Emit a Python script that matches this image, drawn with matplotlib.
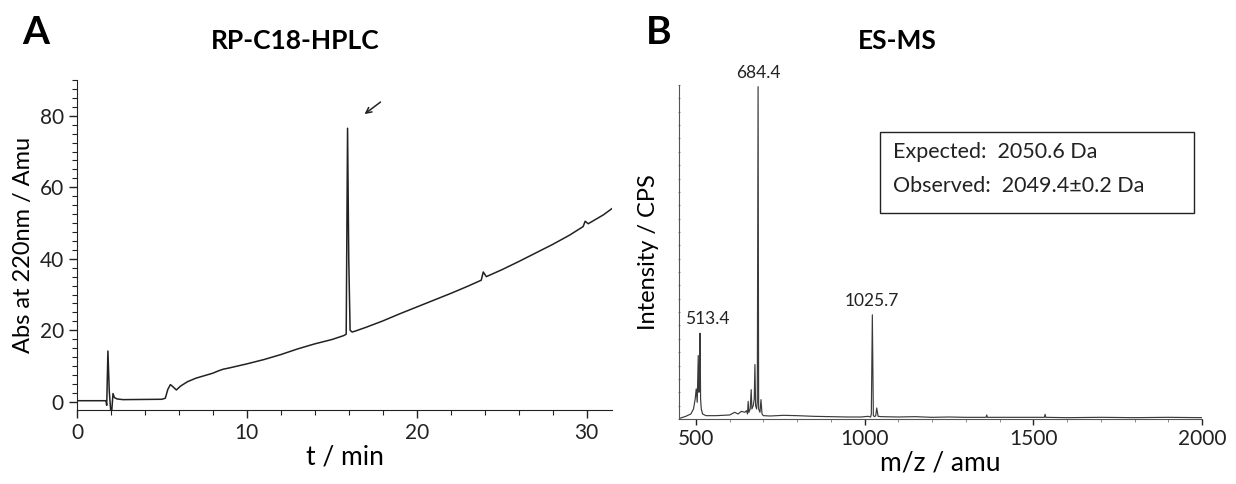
import matplotlib
matplotlib.use("Agg")
import matplotlib.pyplot as plt
from matplotlib.ticker import MultipleLocator, NullFormatter
from matplotlib.patches import Rectangle

plt.rcParams['font.family'] = ['Lato', 'DejaVu Sans']

# ---- Panel A: RP-C18-HPLC chromatogram ----
hplc_t = [0, 1.7, 1.75, 1.82, 1.9, 1.98, 2.05, 2.12, 2.2, 2.35, 2.7, 5.0, 5.2, 5.35, 5.5, 5.65, 5.85, 6.1, 6.5,
          7.0, 7.5, 8.0, 8.3, 8.6, 9.0, 10.0, 11.0, 12.0, 13.0, 14.0, 15.0, 15.7, 15.85, 15.93, 16.0, 16.08, 16.2,
          16.4, 17.0, 18.0, 19.0, 20.0, 21.0, 22.0, 23.0, 23.8, 23.92, 24.1, 25.0, 26.0, 27.0, 28.0, 29.0,
          29.8, 29.92, 30.1, 31.0, 31.6]
hplc_abs = [0.3, 0.3, -1.0, 14.2, 3.0, -2.3, -2.3, 2.3, 1.2, 0.8, 0.6, 0.7, 1.0, 3.5, 4.8, 4.2, 3.3, 4.4, 5.6,
            6.6, 7.3, 8.0, 8.6, 9.1, 9.5, 10.6, 11.8, 13.2, 14.8, 16.2, 17.4, 18.5, 18.9, 76.5, 40.0, 20.0, 19.5,
            19.8, 20.8, 22.6, 24.6, 26.5, 28.4, 30.3, 32.3, 34.0, 36.3, 35.0, 36.9, 39.2, 41.6, 44.0, 46.6,
            49.0, 50.5, 49.8, 52.3, 54.4]

# ---- Panel B: ES-MS spectrum ----
ms_mz = [452, 470, 485, 493, 498, 501, 504, 507, 509, 511, 512.5, 514, 516, 520, 530, 560, 600, 615, 625,
         635, 645, 650, 653, 655, 657, 661, 664, 666, 670, 673, 675, 677, 680, 682, 684.4, 686, 690, 693, 696,
         700, 720, 760, 800, 850, 900, 950, 990, 1010, 1018, 1020, 1023, 1026, 1030, 1033, 1036, 1040, 1050,
         1100, 1150, 1200, 1250, 1300, 1360, 1362, 1364, 1400, 1450, 1500, 1533, 1535, 1537, 1600, 1700,
         1800, 1900, 2000]
ms_int = [0.2, 0.8, 1.5, 3.0, 6.0, 9.0, 5.0, 19.0, 8.0, 12.0, 25.7, 6.0, 3.0, 1.5, 1.0, 1.0, 1.2, 2.0, 1.5,
          2.3, 2.0, 2.5, 1.5, 5.3, 2.0, 3.0, 8.8, 3.0, 4.0, 6.0, 16.3, 4.0, 3.0, 5.0, 99.5, 3.0, 2.0, 5.8, 1.5,
          1.0, 0.9, 1.1, 1.0, 0.8, 0.7, 0.6, 0.6, 0.8, 0.6, 1.5, 31.2, 1.0, 0.7, 1.0, 3.3, 0.8, 0.7,
          0.6, 0.7, 0.5, 0.6, 0.5, 0.5, 1.2, 0.5, 0.5, 0.5, 0.5, 0.5, 1.4, 0.5, 0.4, 0.5,
          0.4, 0.5, 0.4]
peak_labels = ["513.4", "684.4", "1025.7"]
peak_mz = [512.5, 684.4, 1023]
peak_int = [25.7, 99.5, 31.2]
expected_text = "Expected:  2050.6 Da"
observed_text = "Observed:  2049.4\u00b10.2 Da"

W, H = 1236, 484
fig = plt.figure(figsize=(W / 100, H / 100), dpi=100)

def box(l, t, r, b):
    return [l / W, 1 - b / H, (r - l) / W, (b - t) / H]

INK = '#222222'

axA = fig.add_axes(box(77, 80, 612, 410))
axA.plot(hplc_t, hplc_abs, color=INK, lw=1.1)
axA.set_xlim(0, 31.5)
axA.set_ylim(-2.3, 90)
axA.xaxis.set_major_locator(MultipleLocator(10))
axA.xaxis.set_minor_locator(MultipleLocator(2))
axA.yaxis.set_major_locator(MultipleLocator(20))
axA.yaxis.set_minor_locator(MultipleLocator(2.5))
axA.tick_params(which='major', length=6, width=1, labelsize=15, colors=INK)
axA.tick_params(which='minor', length=3.5, width=0.8, colors=INK)
for s in ['top', 'right']:
    axA.spines[s].set_visible(False)
for s in ['left', 'bottom']:
    axA.spines[s].set_color(INK)
axA.set_xlabel("t / min", fontsize=19, labelpad=1)
axA.set_ylabel("Abs at 220nm / Amu", fontsize=17, labelpad=4)
axA.annotate("", xy=(16.8, 80), xytext=(18.0, 84.3),
             arrowprops=dict(arrowstyle='->', color=INK, lw=1.1))

axB = fig.add_axes(box(679, 85, 1202, 419))
axB.plot(ms_mz, ms_int, color='#3a3a3a', lw=0.85)
axB.set_xlim(450, 2000)
axB.set_ylim(0, 100)
axB.xaxis.set_major_locator(MultipleLocator(500))
axB.xaxis.set_minor_locator(MultipleLocator(100))
axB.yaxis.set_major_locator(MultipleLocator(20))
axB.yaxis.set_minor_locator(MultipleLocator(4))
axB.yaxis.set_major_formatter(NullFormatter())
axB.tick_params(axis='x', which='major', length=4, width=1, labelsize=15, colors=INK)
axB.tick_params(axis='x', which='minor', length=2, width=0.6, colors='#777777')
axB.tick_params(axis='y', which='both', length=2, width=0.6, direction='inout', colors='#777777')
for s in ['top', 'right']:
    axB.spines[s].set_visible(False)
axB.spines['left'].set_color('#555555')
axB.spines['bottom'].set_color('#555555')
axB.set_xlabel("m/z / amu", fontsize=19, labelpad=1)
axB.set_ylabel("Intensity / CPS", fontsize=17, labelpad=10)
label_dx = [20, 2, -3]
for lab, x, y, dx in zip(peak_labels, peak_mz, peak_int, label_dx):
    axB.text(x + dx, y + 1.8, lab, ha='center', va='bottom', fontsize=12.5, color=INK)

axB.add_patch(Rectangle((0.384, 0.617), 0.601, 0.242, transform=axB.transAxes,
                        fill=False, ec=INK, lw=1, clip_on=False))
axB.text(0.409, 0.800, expected_text, transform=axB.transAxes, fontsize=15.5,
         va='center', ha='left', color=INK)
axB.text(0.409, 0.698, observed_text, transform=axB.transAxes, fontsize=15.5,
         va='center', ha='left', color=INK)

fig.text(22 / W, 1 - 33 / H, "A", fontsize=28, fontweight='bold', va='center', ha='left')
fig.text(211 / W, 1 - 41 / H, "RP-C18-HPLC", fontsize=19, fontweight='bold', va='center', ha='left')
fig.text(646 / W, 1 - 33 / H, "B", fontsize=28, fontweight='bold', va='center', ha='left')
fig.text(897 / W, 1 - 41 / H, "ES-MS", fontsize=19, fontweight='bold', va='center', ha='center')

fig.savefig("out.png", dpi=100, facecolor='white')
